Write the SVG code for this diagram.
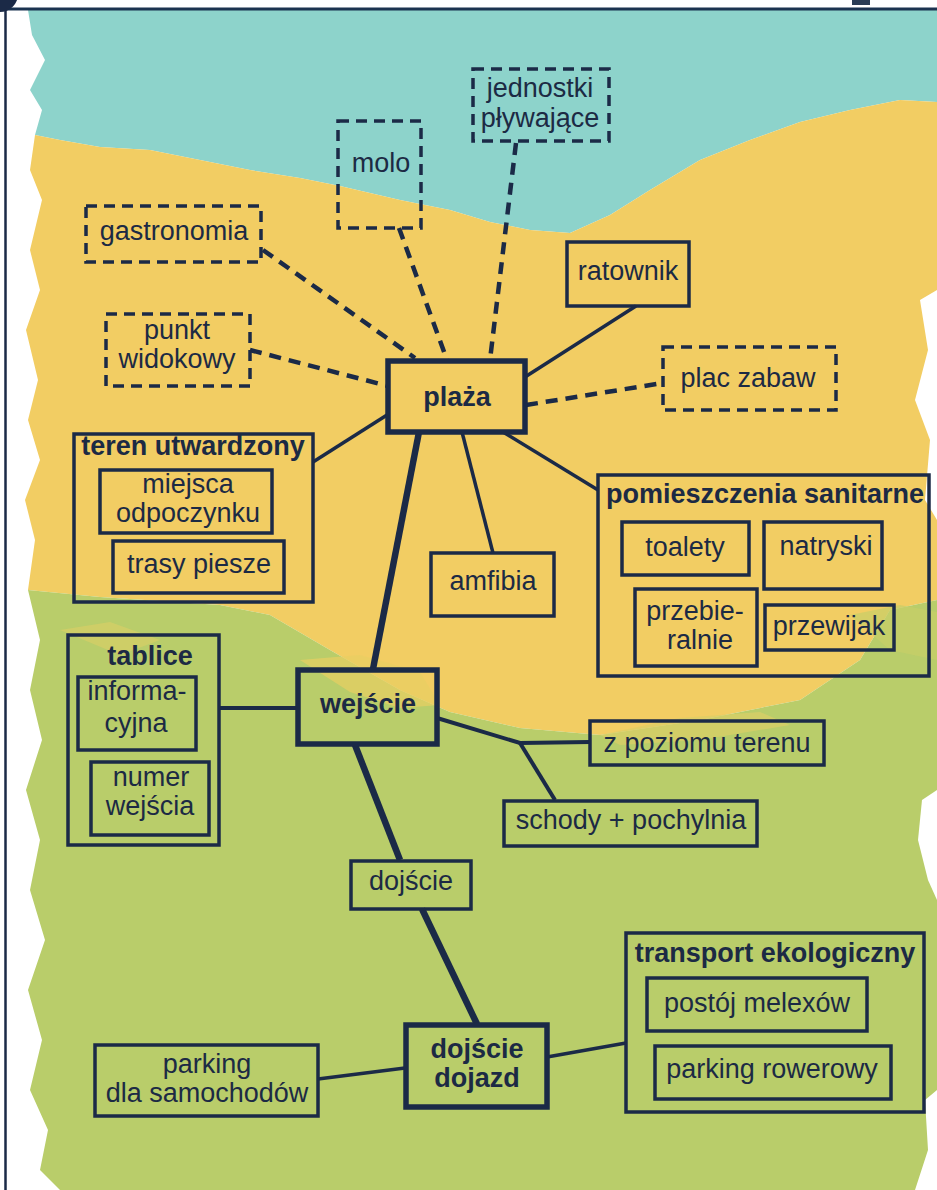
<svg xmlns="http://www.w3.org/2000/svg" width="937" height="1190" viewBox="0 0 937 1190">
<style>
.box{fill:none;stroke:#1b2a47;stroke-width:3.5}
.thick{stroke-width:5.5}
.dash{stroke-dasharray:11 7;stroke-width:3.5}
.c{stroke:#1b2a47;stroke-width:3.5;fill:none}
.cd{stroke-dasharray:12 8;stroke-width:4.5}
.cw{stroke-width:6.5}
.t{font-family:"Liberation Sans",Arial,sans-serif;font-size:27px;fill:#1c2a44;text-anchor:middle}
.b{font-weight:bold}
</style>
<rect x="0" y="0" width="937" height="1190" fill="#ffffff"/>
<g id="background">
<path d="M28,10 L937,10 L937,102 L900,100 L850,110 L800,122 L750,140 L700,160 L650,190 L610,215 L570,233 L530,230 L490,222 L450,210 L400,200 L340,186 L300,178 L250,170 L200,160 L150,150 L100,147 L60,140 L35,135 L42,110 L30,90 L45,60 L32,35 Z" fill="#8dd3cb"/>
<path d="M35,135 L60,140 L100,147 L150,150 L200,160 L250,170 L300,178 L340,186 L400,200 L450,210 L490,222 L530,230 L570,233 L610,215 L650,190 L700,160 L750,140 L800,122 L850,110 L900,100 L937,102 L937,600 L890,610 L860,660 L800,700 L700,720 L600,735 L520,728 L450,712 L400,690 L330,650 L270,615 L220,605 L100,597 L28,590 L35,540 L25,500 L40,460 L28,420 L38,380 L26,330 L40,290 L30,250 L42,200 L30,170 Z" fill="#f2cd63"/>
<path d="M28,590 L100,597 L220,605 L270,615 L330,650 L400,690 L450,712 L520,728 L600,735 L700,720 L800,700 L860,660 L890,610 L937,600 L937,1190 L60,1190 L40,1170 L48,1130 L30,1090 L42,1040 L28,990 L45,940 L30,890 L40,840 L26,790 L42,740 L30,690 L40,640 Z" fill="#b9cd6a"/>
<path d="M300,660 L360,655 L420,672 L440,705 L400,708 L350,692 Z" fill="#e8cf62" opacity="0.7"/>
<path d="M600,735 L680,718 L760,712 L790,725 L700,740 L620,745 Z" fill="#dccf66" opacity="0.7"/>
<path d="M60,630 L110,622 L160,640 L120,655 Z" fill="#dccf66" opacity="0.6"/>
<path d="M850,615 L900,605 L937,612 L937,660 L890,650 Z" fill="#c7ce68" opacity="0.7"/>
<path d="M920,300 L937,290 L937,520 L925,500 L930,440 L915,400 L928,350 Z" fill="#ffffff"/>
<path d="M922,800 L937,790 L937,900 L928,880 L918,840 Z" fill="#ffffff"/>
<path d="M925,1100 L937,1090 L937,1190 L915,1190 L928,1150 Z" fill="#ffffff"/>
</g>
<g id="frame">
<line x1="5" y1="9" x2="937" y2="9" stroke="#1b3350" stroke-width="3"/>
<line x1="5.5" y1="9" x2="5.5" y2="1190" stroke="#1b2a47" stroke-width="2.5"/>
<circle cx="0" cy="-6" r="18" fill="#1b2a47"/>
<rect x="852" y="0" width="18" height="5" fill="#2a3c55"/>
</g>
<g id="connectors">
<line class="c" x1="525" y1="377" x2="636" y2="306"/>
<line class="c cd" x1="526" y1="405" x2="663" y2="383"/>
<line class="c cd" x1="263" y1="250" x2="415" y2="358"/>
<line class="c cd" x1="250" y1="350" x2="388" y2="386"/>
<line class="c cd" x1="399" y1="228" x2="447" y2="360"/>
<line class="c cd" x1="516" y1="143" x2="490" y2="360"/>
<line class="c" x1="387" y1="415" x2="313" y2="462"/>
<line class="c" x1="503" y1="432" x2="598" y2="490"/>
<line class="c" x1="462" y1="432" x2="493" y2="553"/>
<line class="c cw" x1="419" y1="432" x2="373" y2="669"/>
<line class="c" style="stroke-width:4" x1="219" y1="708" x2="297" y2="708"/>
<polyline class="c" style="stroke-width:4" points="437,718 520,743 590,742"/>
<line class="c" style="stroke-width:4" x1="520" y1="743" x2="555" y2="800"/>
<line class="c cw" x1="355" y1="745" x2="400" y2="860"/>
<line class="c cw" x1="422" y1="909" x2="477" y2="1024"/>
<line class="c" x1="318" y1="1079" x2="405" y2="1068"/>
<line class="c" x1="547" y1="1057" x2="626" y2="1043"/>
</g>
<g id="jednostki">
<rect class="box dash" x="473" y="69" width="136" height="72"/>
<text class="t" x="540" y="97">jednostki</text>
<text class="t" x="540" y="127">pływające</text>
</g>
<g id="molo">
<rect class="box dash" x="338" y="121" width="83" height="107"/>
<text class="t" x="381" y="172">molo</text>
</g>
<g id="gastronomia">
<rect class="box dash" x="86" y="206" width="175" height="56"/>
<text class="t" x="174" y="240">gastronomia</text>
</g>
<g id="punkt">
<rect class="box dash" x="106" y="314" width="144" height="72"/>
<text class="t" x="177" y="339">punkt</text>
<text class="t" x="177" y="368">widokowy</text>
</g>
<g id="ratownik">
<rect class="box" x="567" y="242" width="122" height="64"/>
<text class="t" x="628" y="280">ratownik</text>
</g>
<g id="plac">
<rect class="box dash" x="663" y="347" width="173" height="63"/>
<text class="t" x="748" y="387">plac zabaw</text>
</g>
<g id="plaza">
<rect class="box thick" x="388" y="361" width="137" height="71"/>
<text class="t b" x="457" y="406">plaża</text>
</g>
<g id="teren">
<rect class="box" x="74" y="434" width="239" height="168"/>
<text class="t b" x="193" y="455">teren utwardzony</text>
<rect class="box" x="100" y="470" width="172" height="63"/>
<text class="t" x="188" y="493">miejsca</text>
<text class="t" x="188" y="522">odpoczynku</text>
<rect class="box" x="113" y="541" width="171" height="52"/>
<text class="t" x="199" y="573">trasy piesze</text>
</g>
<g id="amfibia">
<rect class="box" x="431" y="553" width="123" height="63"/>
<text class="t" x="493" y="590">amfibia</text>
</g>
<g id="sanitarne">
<rect class="box" x="598" y="475" width="331" height="201"/>
<text class="t b" x="765" y="503">pomieszczenia sanitarne</text>
<rect class="box" x="622" y="522" width="127" height="53"/>
<text class="t" x="685" y="556">toalety</text>
<rect class="box" x="764" y="522" width="118" height="67"/>
<text class="t" x="826" y="555">natryski</text>
<rect class="box" x="635" y="589" width="122" height="77"/>
<text class="t" x="695" y="620">przebie-</text>
<text class="t" x="700" y="649">ralnie</text>
<rect class="box" x="765" y="605" width="129" height="45"/>
<text class="t" x="829" y="635">przewijak</text>
</g>
<g id="tablice">
<rect class="box" x="68" y="635" width="151" height="210"/>
<text class="t b" x="150" y="665">tablice</text>
<rect class="box" x="78" y="677" width="118" height="73"/>
<text class="t" x="137" y="700">informa-</text>
<text class="t" x="136" y="732">cyjna</text>
<rect class="box" x="91" y="762" width="118" height="73"/>
<text class="t" x="151" y="786">numer</text>
<text class="t" x="150" y="815">wejścia</text>
</g>
<g id="wejscie">
<rect class="box thick" x="298" y="670" width="139" height="74"/>
<text class="t b" x="368" y="713">wejście</text>
</g>
<g id="zpoziomu">
<rect class="box" x="590" y="721" width="234" height="44"/>
<text class="t" x="707" y="752">z poziomu terenu</text>
</g>
<g id="schody">
<rect class="box" x="504" y="801" width="253" height="45"/>
<text class="t" x="631" y="829">schody + pochylnia</text>
</g>
<g id="dojscie">
<rect class="box" x="351" y="861" width="120" height="48"/>
<text class="t" x="411" y="890">dojście</text>
</g>
<g id="dojazd">
<rect class="box thick" x="406" y="1025" width="141" height="82"/>
<text class="t b" x="477" y="1058">dojście</text>
<text class="t b" x="477" y="1087">dojazd</text>
</g>
<g id="parking">
<rect class="box" x="95" y="1045" width="223" height="71"/>
<text class="t" x="207" y="1073">parking</text>
<text class="t" x="207" y="1102">dla samochodów</text>
</g>
<g id="transport">
<rect class="box" x="626" y="933" width="298" height="179"/>
<text class="t b" x="775" y="962">transport ekologiczny</text>
<rect class="box" x="647" y="978" width="220" height="53"/>
<text class="t" x="757" y="1012">postój melexów</text>
<rect class="box" x="655" y="1046" width="236" height="53"/>
<text class="t" x="772" y="1078">parking rowerowy</text>
</g>
</svg>
